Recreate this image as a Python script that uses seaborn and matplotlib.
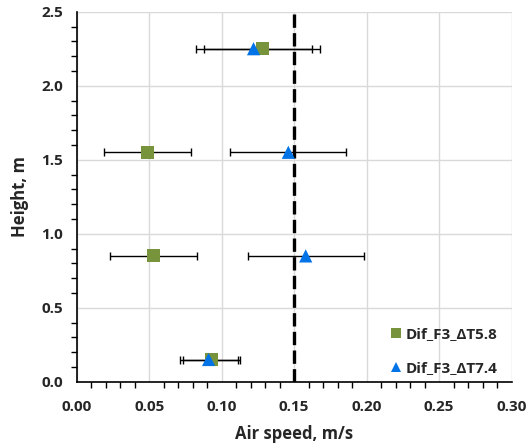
import numpy as np
import pandas as pd
import matplotlib
matplotlib.use("Agg")
import matplotlib.pyplot as plt
from matplotlib.ticker import MultipleLocator, FormatStrFormatter
import seaborn as sns

# Measured air speed profiles (m/s) at four heights (m)
heights = [2.25, 1.55, 0.85, 0.15]
speed_dt58 = [0.128, 0.049, 0.053, 0.093]
err_dt58 = [0.040, 0.030, 0.030, 0.020]
speed_dt74 = [0.122, 0.146, 0.158, 0.091]
err_dt74 = [0.040, 0.040, 0.040, 0.020]
series_names = ["Dif_F3_\u0394T5.8", "Dif_F3_\u0394T7.4"]
comfort_limit = 0.15

colors = {series_names[0]: "#77933C", series_names[1]: "#0073E6"}
markers = {series_names[0]: "s", series_names[1]: "^"}

df = pd.DataFrame({
    "speed": speed_dt58 + speed_dt74,
    "height": heights + heights,
    "err": err_dt58 + err_dt74,
    "series": [series_names[0]] * len(heights) + [series_names[1]] * len(heights),
})

sns.set_theme(style="white")
plt.rcParams["font.family"] = ["Open Sans", "DejaVu Sans"]
plt.rcParams["font.weight"] = "bold"
plt.rcParams["axes.labelweight"] = "bold"

fig = plt.figure(figsize=(5.29, 4.44), dpi=100)
ax = fig.add_axes([0.145, 0.1403, 0.822, 0.8333])

ax.grid(True, which="major", color="#D9D9D9", linewidth=1.0)
ax.set_axisbelow(True)

for name in series_names:
    sub = df[df["series"] == name]
    ax.errorbar(sub["speed"], sub["height"], xerr=sub["err"], fmt="none",
                ecolor="black", elinewidth=1.0, capsize=3, capthick=1.0, zorder=2)

ax.axvline(comfort_limit, color="black", linewidth=2.4, linestyle=(0, (4, 1.6)), zorder=3)

sns.scatterplot(data=df, x="speed", y="height", hue="series", style="series",
                palette=colors, markers=markers, s=90, linewidth=0,
                edgecolor="none", ax=ax, zorder=4)

ax.set_xlim(0, 0.30)
ax.set_ylim(0, 2.5)
ax.xaxis.set_major_locator(MultipleLocator(0.05))
ax.xaxis.set_minor_locator(MultipleLocator(0.01))
ax.yaxis.set_major_locator(MultipleLocator(0.5))
ax.yaxis.set_minor_locator(MultipleLocator(0.1))
ax.xaxis.set_major_formatter(FormatStrFormatter("%.2f"))
ax.yaxis.set_major_formatter(FormatStrFormatter("%.1f"))

ax.tick_params(axis="x", which="major", direction="inout", length=8, width=1.2,
               color="black", labelsize=11, pad=9)
ax.tick_params(axis="x", which="minor", direction="out", length=4, width=1.0,
               color="black", bottom=True)
ax.tick_params(axis="y", which="major", direction="out", length=5, width=1.2,
               color="black", labelsize=11, pad=5)
ax.tick_params(axis="y", which="minor", direction="out", length=4, width=1.0,
               color="black", left=True)

for side in ["top", "right"]:
    ax.spines[side].set_visible(False)
for side in ["left", "bottom"]:
    ax.spines[side].set_color("black")
    ax.spines[side].set_linewidth(1.2)

ax.set_xlabel("Air speed, m/s", fontsize=12, fontweight="bold", labelpad=8)
ax.set_ylabel("Height, m", fontsize=12, fontweight="bold", labelpad=9)

handles, labels = ax.get_legend_handles_labels()
leg = ax.legend(handles, labels, loc="lower right", bbox_to_anchor=(1.0, -0.02),
                frameon=False, labelspacing=1.3, handletextpad=0.0,
                handlelength=1.3, markerscale=0.7,
                prop={"weight": "bold", "size": 11})

fig.savefig("out.png", dpi=100)
